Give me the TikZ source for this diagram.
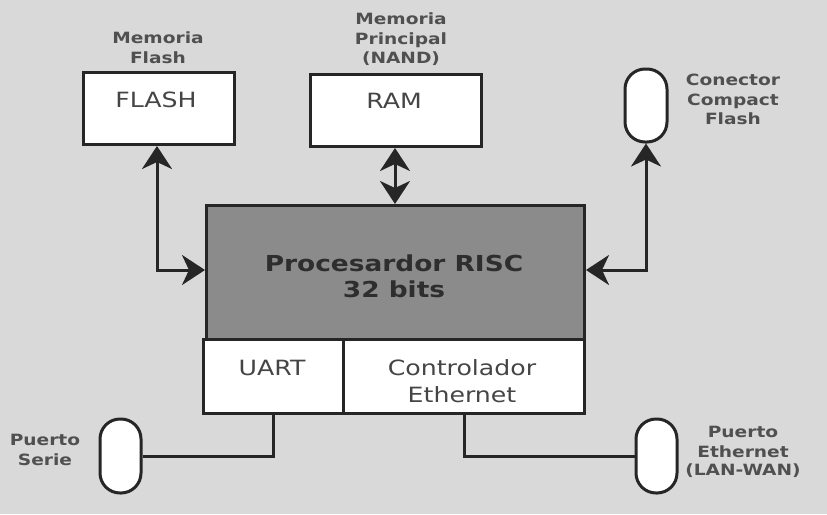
\documentclass[tikz,border=0pt]{standalone}
\usepackage{fontspec}
\setmainfont{DejaVu Sans}[FakeStretch=1.2]
\usetikzlibrary{arrows.meta}
\definecolor{bgc}{HTML}{D9D9D9}
\definecolor{strk}{HTML}{262626}
\definecolor{procfill}{HTML}{8B8B8B}
\definecolor{lbltxt}{HTML}{505050}
\definecolor{boxtxt}{HTML}{454545}
\definecolor{proctxt}{HTML}{2E2E2E}
\tikzset{
  box/.style={draw=strk, line width=3pt, fill=white, inner sep=0pt, anchor=north west},
  pill/.style={draw=strk, line width=3pt, fill=white, inner sep=0pt, rounded corners=20pt, minimum width=42pt, minimum height=74pt},
  lbl/.style={text=lbltxt, font=\bfseries\fontsize{15.5}{20}\selectfont, align=center, anchor=base},
  btxt/.style={text=boxtxt, font=\fontsize{21}{27}\selectfont, anchor=base},
  ptxt/.style={text=proctxt, font=\bfseries\fontsize{22}{26}\selectfont, anchor=base},
  conn/.style={draw=strk, line width=3pt},
  biarrow/.style={conn, {Stealth[length=23pt, width=30pt, inset=7pt]}-{Stealth[length=23pt, width=30pt, inset=7pt]}},
}
\begin{document}
\begin{tikzpicture}[x=1pt, y=-1pt]
\fill[bgc] (0,0) rectangle (827,514);
\useasboundingbox (0,0) rectangle (827,514);

% boxes
\node[box, minimum width=151pt, minimum height=72pt] (flash) at (82,71) {};
\node[box, minimum width=171pt, minimum height=72pt] (ram) at (309,73) {};
\node[box, fill=procfill, minimum width=378pt, minimum height=134pt] (proc) at (205,204) {};
\node[box, minimum width=140pt, minimum height=74pt] (uart) at (202,338) {};
\node[box, minimum width=241pt, minimum height=74pt] (eth) at (342,338) {};

% pills
\node[pill, minimum height=73pt] (cf) at (646,105.5) {};
\node[pill, minimum width=41pt] (ps) at (120.5,456) {};
\node[pill, minimum width=41pt] (pe) at (656.5,456) {};

% box texts
\node[btxt] (tflash) at (156,107) {FLASH};
\node[btxt] (tram) at (394,108) {RAM};
\node[btxt] (tuart) at (272,375) {UART};
\node[btxt] (tctl) at (462,375) {Controlador};
\node[btxt] (teth) at (462,402) {Ethernet};
\node[ptxt] (tproc1) at (394,271) {Procesardor RISC};
\node[ptxt] (tproc2) at (394,297) {32 bits};

% labels
\node[lbl] (l1a) at (158,43) {Memoria};
\node[lbl] (l1b) at (158,63) {Flash};
\node[lbl] (l2a) at (401,24) {Memoria};
\node[lbl] (l2b) at (401,44) {Principal};
\node[lbl] (l2c) at (401,63) {(NAND)};
\node[lbl] (l3a) at (733,85) {Conector};
\node[lbl] (l3b) at (733,105) {Compact};
\node[lbl] (l3c) at (733,124) {Flash};
\node[lbl] (l4a) at (45,445) {Puerto};
\node[lbl] (l4b) at (45,465) {Serie};
\node[lbl] (l5a) at (743,437) {Puerto};
\node[lbl] (l5b) at (743,457) {Ethernet};
\node[lbl] (l5c) at (743,475) {(LAN-WAN)};

% connectors
\draw[biarrow] (flash.south -| 157,0) -- (157,270) -- (proc.west |- 0,270);
\draw[biarrow] (ram.south -| 395,0) -- (proc.north -| 395,0);
\draw[biarrow] (cf.south) -- (646,270) -- (proc.east |- 0,270);
\draw[conn] (uart.south -| 273,0) -- (273,456) -- (ps.east);
\draw[conn] (eth.south -| 464,0) -- (464,456) -- (pe.west);
\end{tikzpicture}
\end{document}
